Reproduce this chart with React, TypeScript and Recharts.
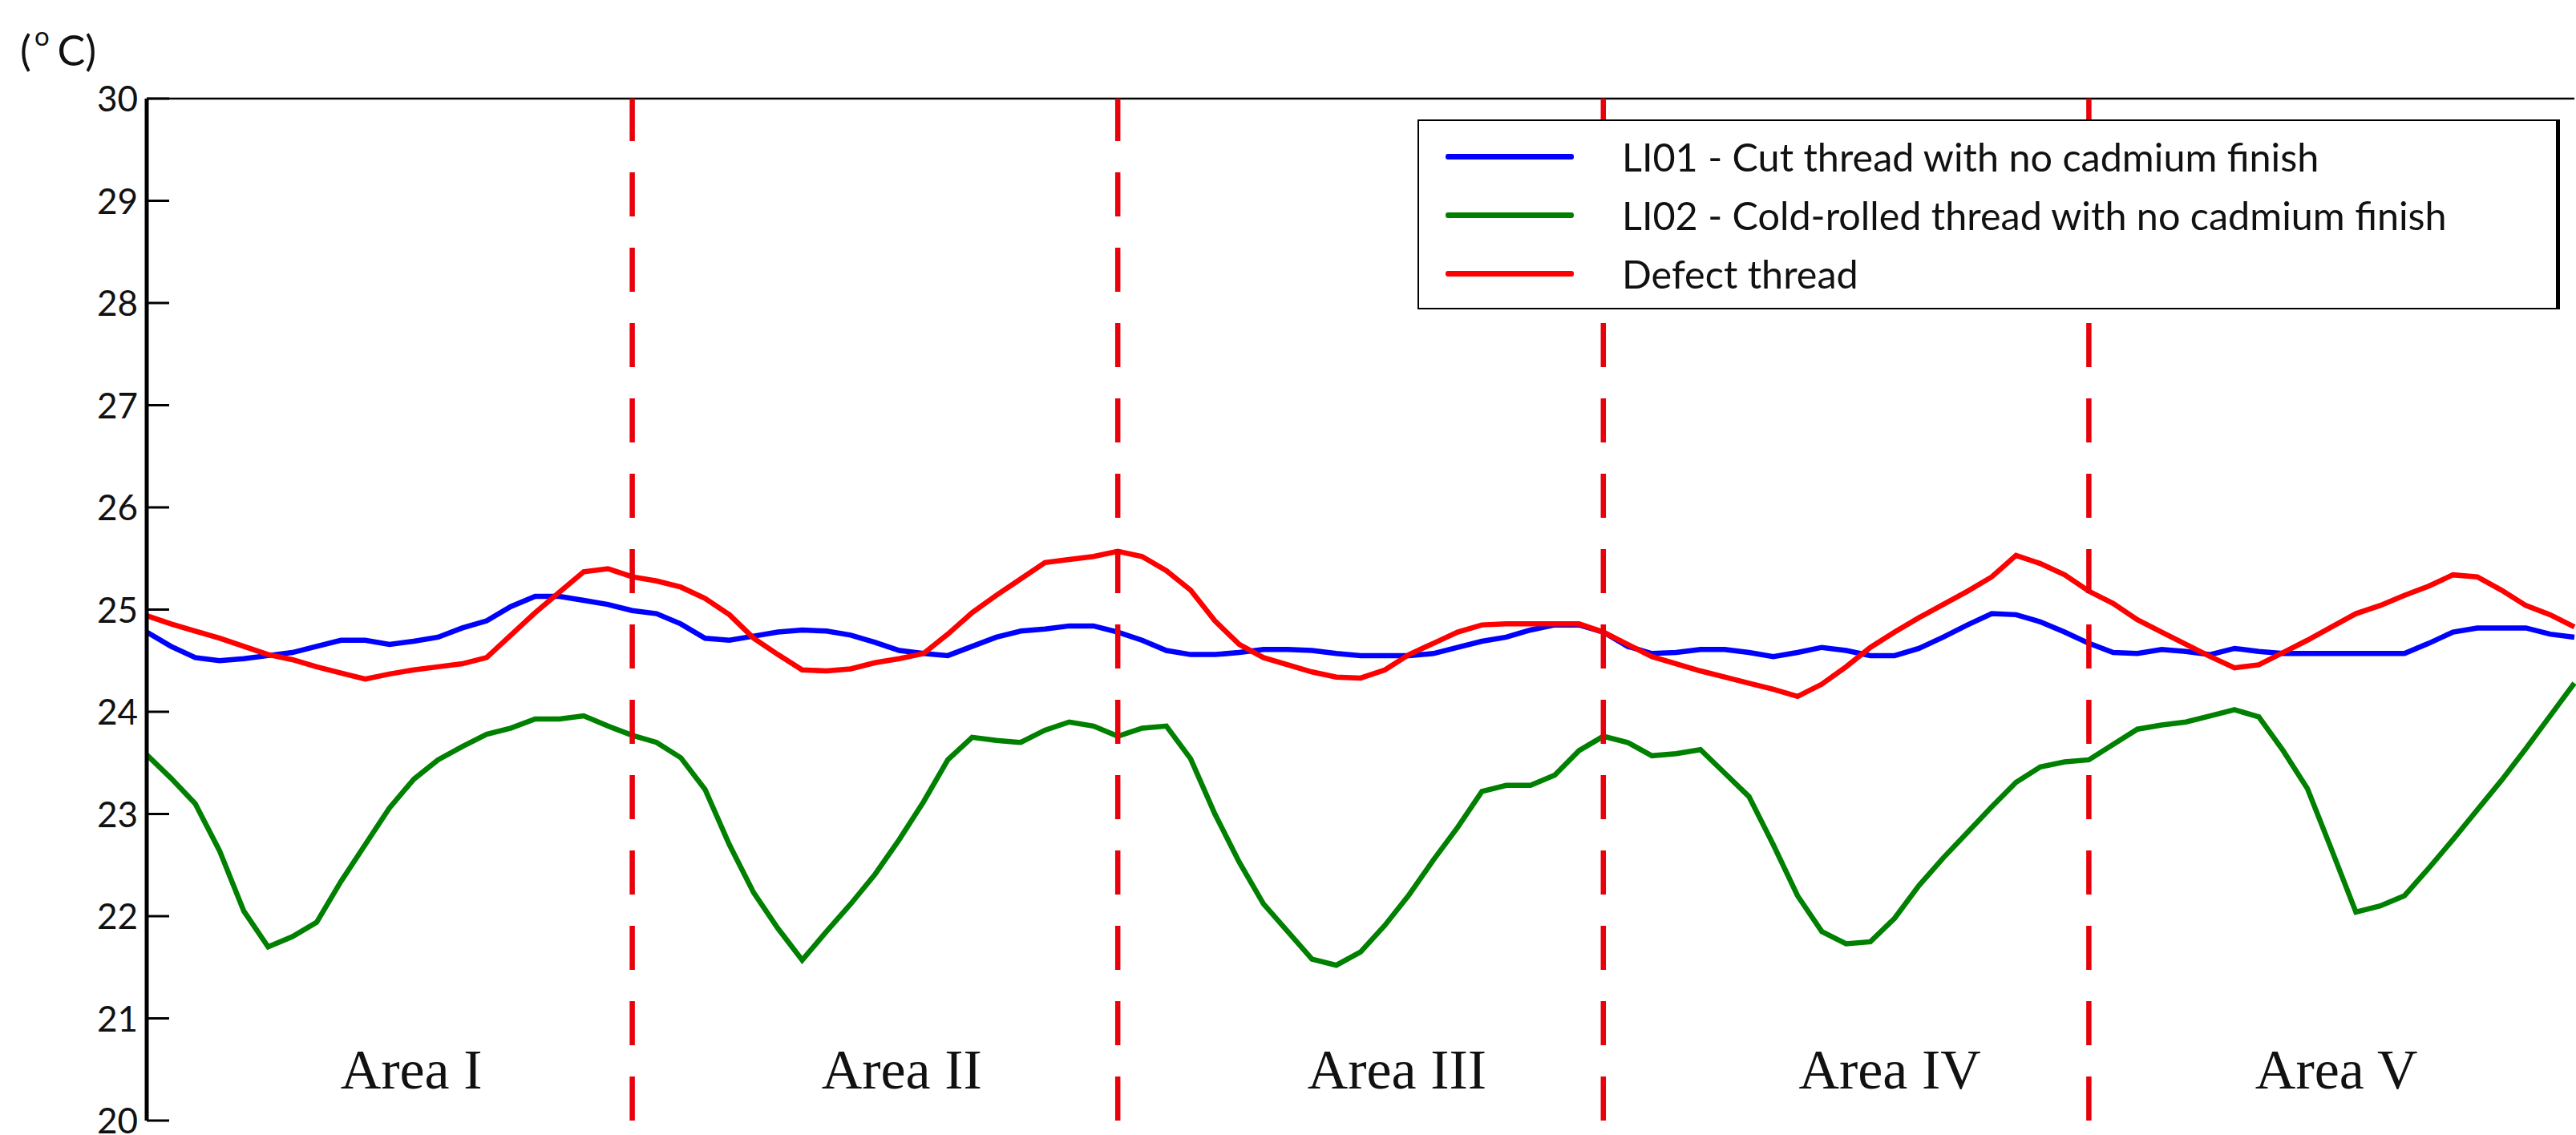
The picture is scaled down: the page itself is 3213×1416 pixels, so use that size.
import { LineChart, Line, XAxis, YAxis, ReferenceLine, ReferenceDot, Legend } from 'recharts'

// temperature readings along the bolt (one sample per step, 5 areas of 20 steps)
const li01 = [
  24.78, 24.64, 24.53, 24.50, 24.52, 24.55, 24.58, 24.64, 24.70, 24.70, 24.66, 24.69, 24.73, 24.82, 24.89, 25.03, 25.13, 25.13, 25.09, 25.05, 24.99,
  24.96, 24.86, 24.72, 24.70, 24.74, 24.78, 24.80, 24.79, 24.75, 24.68, 24.60, 24.57, 24.55, 24.64, 24.73, 24.79, 24.81, 24.84, 24.84, 24.78,
  24.70, 24.60, 24.56, 24.56, 24.58, 24.61, 24.61, 24.60, 24.57, 24.55, 24.55, 24.55, 24.57, 24.63, 24.69, 24.73, 24.80, 24.85, 24.85, 24.78,
  24.64, 24.57, 24.58, 24.61, 24.61, 24.58, 24.54, 24.58, 24.63, 24.60, 24.55, 24.55, 24.62, 24.73, 24.85, 24.96, 24.95, 24.88, 24.78, 24.67,
  24.58, 24.57, 24.61, 24.59, 24.56, 24.62, 24.59, 24.57, 24.57, 24.57, 24.57, 24.57, 24.57, 24.67, 24.78, 24.82, 24.82, 24.82, 24.76, 24.73,
]
const li02 = [
  23.58, 23.35, 23.10, 22.64, 22.05, 21.70, 21.80, 21.94, 22.34, 22.70, 23.06, 23.34, 23.53, 23.66, 23.78, 23.84, 23.93, 23.93, 23.96, 23.86, 23.77,
  23.70, 23.55, 23.24, 22.70, 22.23, 21.88, 21.57, 21.85, 22.12, 22.41, 22.75, 23.12, 23.53, 23.75, 23.72, 23.70, 23.82, 23.90, 23.86, 23.76,
  23.84, 23.86, 23.54, 23.00, 22.53, 22.12, 21.85, 21.58, 21.52, 21.65, 21.91, 22.21, 22.55, 22.87, 23.22, 23.28, 23.28, 23.38, 23.62, 23.76,
  23.70, 23.57, 23.59, 23.63, 23.40, 23.17, 22.70, 22.20, 21.85, 21.73, 21.75, 21.98, 22.30, 22.57, 22.82, 23.07, 23.31, 23.46, 23.51, 23.53,
  23.68, 23.83, 23.87, 23.90, 23.96, 24.02, 23.95, 23.62, 23.25, 22.65, 22.04, 22.10, 22.20, 22.47, 22.75, 23.04, 23.33, 23.64, 23.96, 24.28,
]
const defect = [
  24.94, 24.86, 24.79, 24.72, 24.64, 24.56, 24.51, 24.44, 24.38, 24.32, 24.37, 24.41, 24.44, 24.47, 24.53, 24.75, 24.97, 25.17, 25.37, 25.40, 25.32,
  25.28, 25.22, 25.11, 24.95, 24.72, 24.56, 24.41, 24.40, 24.42, 24.48, 24.52, 24.57, 24.76, 24.97, 25.14, 25.30, 25.46, 25.49, 25.52, 25.57,
  25.52, 25.38, 25.19, 24.89, 24.66, 24.53, 24.46, 24.39, 24.34, 24.33, 24.41, 24.56, 24.67, 24.78, 24.85, 24.86, 24.86, 24.86, 24.86, 24.78,
  24.66, 24.54, 24.47, 24.40, 24.34, 24.28, 24.22, 24.15, 24.27, 24.44, 24.63, 24.78, 24.92, 25.05, 25.18, 25.32, 25.53, 25.45, 25.34, 25.18,
  25.06, 24.90, 24.78, 24.66, 24.54, 24.43, 24.46, 24.58, 24.70, 24.83, 24.96, 25.04, 25.14, 25.23, 25.34, 25.32, 25.19, 25.04, 24.95, 24.83,
]

const yTicks = [20, 21, 22, 23, 24, 25, 26, 27, 28, 29, 30]
const areaBounds = [20, 40, 60, 80]
const areaNames = ['Area I', 'Area II', 'Area III', 'Area IV', 'Area V']
const areaLabelX = [10.9, 31.1, 51.5, 71.8, 90.2]

const series = [
  { key: 'li01', name: 'LI01 - Cut thread with no cadmium finish', color: '#0000ff' },
  { key: 'li02', name: 'LI02 - Cold-rolled thread with no cadmium finish', color: '#008000' },
  { key: 'defect', name: 'Defect thread', color: '#ff0000' },
]

const rows = li01.map((v, i) => ({ x: i, li01: v, li02: li02[i], defect: defect[i] }))

const SANS = 'Lato, "Open Sans", sans-serif'
const SERIF = '"Liberation Serif", "Times New Roman", serif'

function LeftTick({ x, y, payload }: any) {
  return (
    <g>
      <line x1={x} x2={x + 28} y1={y} y2={y} stroke="#000" strokeWidth={3} />
      <text x={x - 11} y={y} dy={16} textAnchor="end" fontFamily={SANS} fontSize={44} fill="#111">
        {payload.value}
      </text>
    </g>
  )
}

function RightTick({ x, y }: any) {
  return <line x1={x} x2={x - 28} y1={y} y2={y} stroke="#000" strokeWidth={3} />
}

function LegendBox() {
  return (
    <div style={{
      boxSizing: 'border-box', width: 1425, height: 237, background: '#fff',
      border: '2.5px solid #000', borderRightWidth: 5, position: 'relative', fontFamily: SANS,
    }}>
      {series.map((s, i) => (
        <div key={s.key} style={{
          position: 'absolute', left: 0, top: 44 + i * 73 - 30, height: 60,
          display: 'flex', alignItems: 'center',
        }}>
          <div style={{ marginLeft: 33, width: 160, height: 7, background: s.color, borderRadius: 3 }} />
          <span style={{ marginLeft: 60, fontSize: 48.5, color: '#111', lineHeight: 1 }}>{s.name}</span>
        </div>
      ))}
    </div>
  )
}

export default function App() {
  return (
    <div style={{ position: 'absolute', left: 0, top: 0, width: 3213, height: 1416, background: '#fff' }}>
      <svg width={200} height={110} style={{ position: 'absolute', left: 0, top: 0 }}>
        <text x={25} y={82} fontFamily={SANS} fontSize={52} fill="#111">
          (<tspan fontSize={33} dy={-25} dx={4}>o</tspan>
          <tspan fontSize={52} dy={25} dx={10}>C)</tspan>
        </text>
      </svg>
      <LineChart width={3213} height={1416} data={rows} margin={{ top: 123, right: 2, bottom: 18, left: 0 }}>
        <XAxis dataKey="x" type="number" domain={[0, 100]} height={0} tick={false} tickLine={false}
          axisLine={{ stroke: '#000', strokeWidth: 5 }} />
        <YAxis domain={[20, 30]} ticks={yTicks} width={183} tickLine={false} tickSize={0} tickMargin={0}
          axisLine={{ stroke: '#000', strokeWidth: 5 }} tick={<LeftTick />} interval={0} />
        <YAxis yAxisId="r" orientation="right" domain={[20, 30]} ticks={yTicks} width={0} tickLine={false}
          tickSize={0} tickMargin={0} axisLine={{ stroke: '#000', strokeWidth: 3 }} tick={<RightTick />} interval={0} />
        <ReferenceLine y={30} stroke="#000" strokeWidth={2.5} />
        {series.map((s) => (
          <Line key={s.key} type="linear" dataKey={s.key} name={s.name} stroke={s.color} strokeWidth={6.5}
            dot={false} isAnimationActive={false} />
        ))}
        {areaBounds.map((b) => (
          <ReferenceLine key={b} x={b} stroke="#e8000b" strokeWidth={6.5} strokeDasharray="55 39" />
        ))}
        {areaNames.map((n, i) => (
          <ReferenceDot key={n} x={areaLabelX[i]} y={20.314} r={0} fill="none" stroke="none"
            label={(p: any) => (
              <text x={p.viewBox.x} y={p.viewBox.y} textAnchor="middle" fontFamily={SERIF} fontSize={70} fill="#111">
                {n}
              </text>
            )} />
        ))}
        <Legend layout="horizontal" verticalAlign="middle" align="center" content={<LegendBox />}
          wrapperStyle={{ left: 1768, top: 149, width: 1425, height: 237 }} />
      </LineChart>
    </div>
  )
}
